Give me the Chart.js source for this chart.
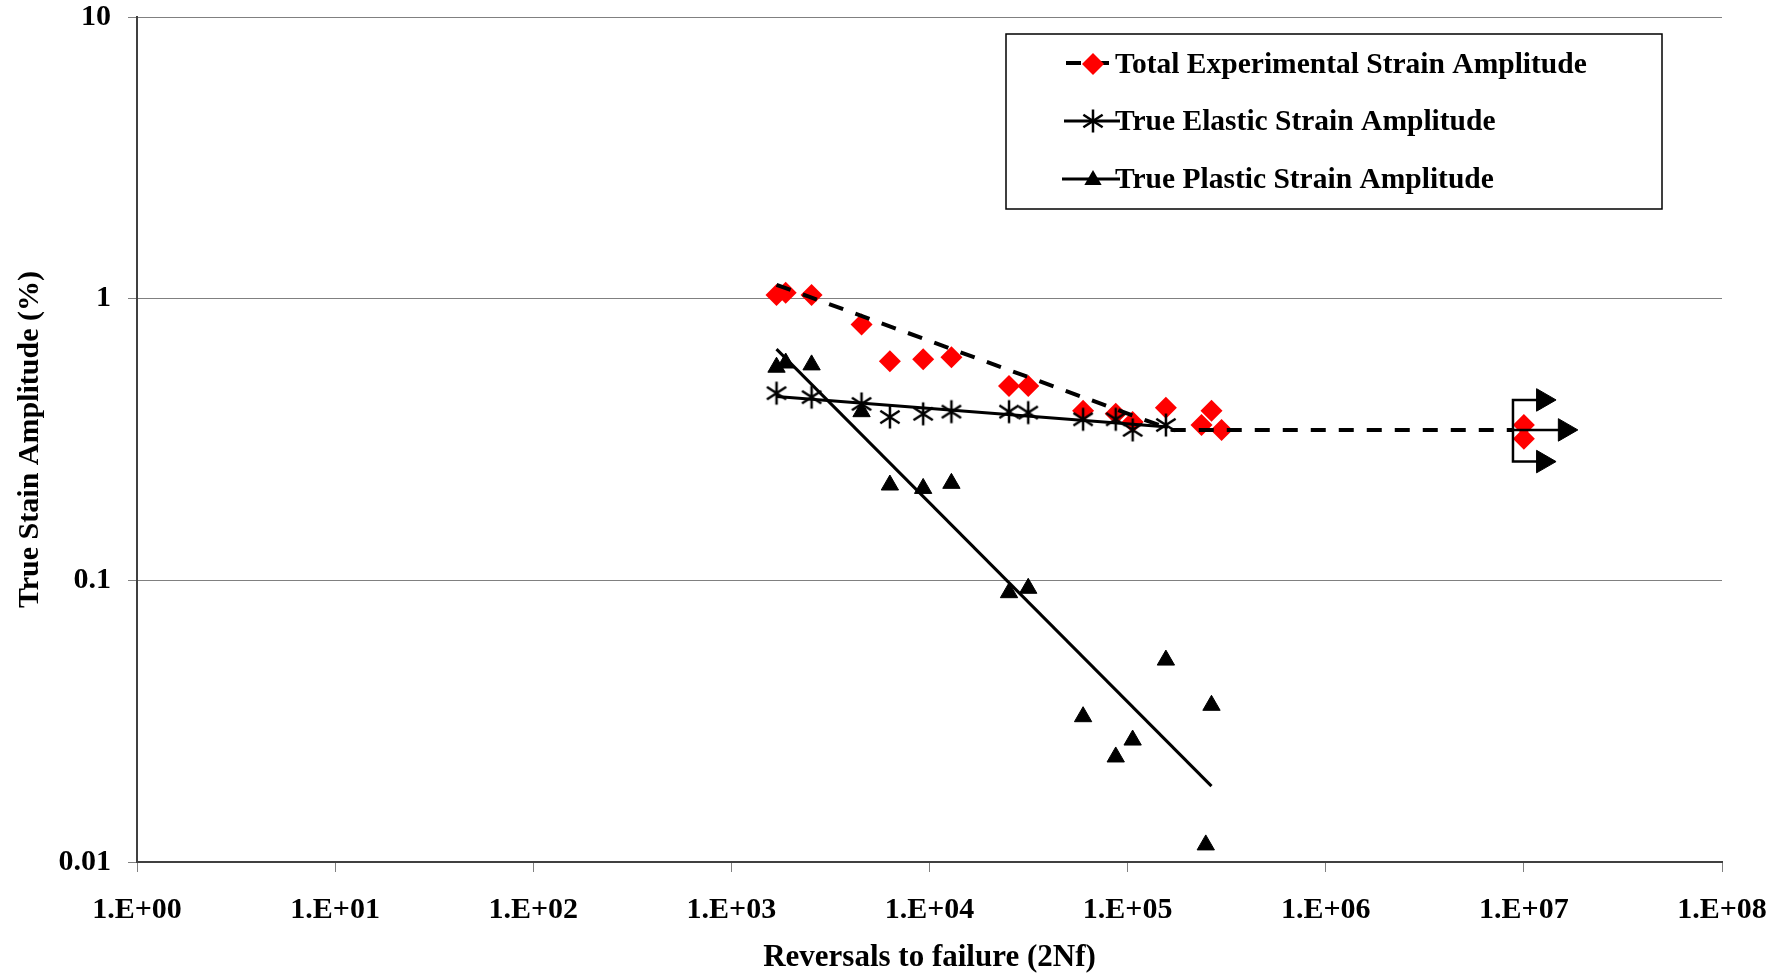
<!DOCTYPE html>
<html>
<head>
<meta charset="utf-8">
<title>Strain amplitude vs reversals</title>
<script src="https://cdn.jsdelivr.net/npm/chart.js@4.4.1/dist/chart.umd.min.js"></script>
<style>
  html, body { margin: 0; padding: 0; background: #fff; }
  #wrap { width: 1792px; height: 977px; }
</style>
</head>
<body>
<div id="wrap"><canvas id="grafico" width="1792" height="977"></canvas></div>
<script>
// axis ticks
var xTicks = [1, 10, 1e2, 1e3, 1e4, 1e5, 1e6, 1e7, 1e8];
var xTickLabels = ['1.E+00', '1.E+01', '1.E+02', '1.E+03', '1.E+04', '1.E+05', '1.E+06', '1.E+07', '1.E+08'];
var yTicks = [0.01, 0.1, 1, 10];
var yTickLabels = ['0.01', '0.1', '1', '10'];

// measured points (reversals, strain amplitude %)
var totalN = [1690, 1880, 2540, 4540, 6310, 9290, 12900, 25200, 31500, 59600, 87100, 106000, 156000, 236000, 265000, 298000, 1.0e7, 1.0e7];
var totalAmp = [1.03, 1.05, 1.03, 0.81, 0.60, 0.61, 0.62, 0.49, 0.49, 0.40, 0.39, 0.365, 0.41, 0.356, 0.40, 0.342, 0.356, 0.318];

var elasticN = [1690, 2540, 4540, 6310, 9290, 12900, 25200, 31500, 59600, 87100, 106000, 156000];
var elasticAmp = [0.462, 0.447, 0.423, 0.380, 0.390, 0.397, 0.397, 0.394, 0.373, 0.373, 0.342, 0.356];

var plasticN = [1690, 1880, 2540, 4540, 6310, 9290, 12900, 25200, 31500, 59600, 87100, 106000, 156000, 248000, 265000];
var plasticAmp = [0.571, 0.591, 0.582, 0.397, 0.218, 0.212, 0.221, 0.0904, 0.0937, 0.0328, 0.0236, 0.0271, 0.0521, 0.0115, 0.0360];

// fitted lines
var totalFitN = [1690, 168000, 8810000];
var totalFitAmp = [1.12, 0.342, 0.342];
var elasticFitN = [1690, 160000];
var elasticFitAmp = [0.449, 0.350];
var plasticFitN = [1690, 265000];
var plasticFitAmp = [0.662, 0.0186];

// run-out bracket at 1E+07
var runoutN = [8810000, 12500000, 16100000];
var runoutAmp = [0.437, 0.342, 0.264];

var legendLabels = ['Total Experimental Strain Amplitude', 'True Elastic Strain Amplitude', 'True Plastic Strain Amplitude'];

var fonte = "'Liberation Serif', 'Times New Roman', serif";

function pares(xs, ys) {
    return xs.map(function (x, i) { return { x: x, y: ys[i] }; });
}

// asterisk marker like the spreadsheet one (vertical + two diagonals)
function makeStar(size, lw) {
    var c = document.createElement('canvas');
    c.width = size; c.height = size;
    var g = c.getContext('2d');
    var m = size / 2, r = size / 2 - 1.5;
    g.strokeStyle = '#000';
    g.lineWidth = lw;
    g.beginPath();
    [90, 33, 147].forEach(function (a) {
        var rad = a * Math.PI / 180;
        g.moveTo(m + Math.cos(rad) * r, m - Math.sin(rad) * r);
        g.lineTo(m - Math.cos(rad) * r, m + Math.sin(rad) * r);
    });
    g.stroke();
    return c;
}
var starImg = makeStar(26, 2.5);

function diamond(ctx, x, y, r) {
    ctx.beginPath();
    ctx.moveTo(x, y - r); ctx.lineTo(x + r, y); ctx.lineTo(x, y + r); ctx.lineTo(x - r, y);
    ctx.closePath();
    ctx.fill();
}

function triangle(ctx, x, y, r) {
    ctx.beginPath();
    ctx.moveTo(x, y - r);
    ctx.lineTo(x + r * Math.sin(2 * Math.PI / 3), y - r * Math.cos(2 * Math.PI / 3));
    ctx.lineTo(x - r * Math.sin(2 * Math.PI / 3), y - r * Math.cos(2 * Math.PI / 3));
    ctx.closePath();
    ctx.fill();
}

// boxed legend inside the plot, top right
var legendaPlugin = {
    id: 'legendaCaixa',
    afterDraw: function (chart) {
        var ctx = chart.ctx;
        ctx.save();
        ctx.strokeStyle = '#000';
        ctx.lineWidth = 1.5;
        ctx.strokeRect(1006, 34, 656, 175);

        var rows = [63, 121, 179];

        // row 1: dashed line + red diamond
        ctx.lineWidth = 4;
        ctx.setLineDash([15, 13]);
        ctx.beginPath(); ctx.moveTo(1066, rows[0]); ctx.lineTo(1120, rows[0]); ctx.stroke();
        ctx.setLineDash([]);
        ctx.fillStyle = '#ff0000';
        diamond(ctx, 1093, rows[0] + 1, 11);

        // row 2: solid line + asterisk
        ctx.lineWidth = 3;
        ctx.beginPath(); ctx.moveTo(1064, rows[1]); ctx.lineTo(1120, rows[1]); ctx.stroke();
        ctx.drawImage(starImg, 1093 - 13, rows[1] - 13);

        // row 3: solid line + triangle
        ctx.beginPath(); ctx.moveTo(1062, rows[2]); ctx.lineTo(1120, rows[2]); ctx.stroke();
        ctx.fillStyle = '#000';
        triangle(ctx, 1093, rows[2] + 1, 10);

        ctx.font = 'bold 29.5px ' + fonte;
        ctx.textBaseline = 'alphabetic';
        ctx.textAlign = 'left';
        ctx.fillStyle = '#000';
        ctx.fillText(legendLabels[0], 1115, 73);
        ctx.fillText(legendLabels[1], 1115, 130);
        ctx.fillText(legendLabels[2], 1115, 188);
        ctx.restore();
    }
};

var init = function () {
    var ctx = document.getElementById('grafico').getContext('2d');
    new Chart(ctx, {
        type: 'scatter',
        data: {
            datasets: [
                {
                    label: 'runout-top-bottom',
                    data: [
                        { x: runoutN[1], y: runoutAmp[0] },
                        { x: runoutN[0], y: runoutAmp[0] },
                        { x: runoutN[0], y: runoutAmp[2] },
                        { x: runoutN[1], y: runoutAmp[2] }
                    ],
                    showLine: true,
                    borderColor: '#000',
                    borderWidth: 2.5,
                    backgroundColor: '#000',
                    pointStyle: 'triangle',
                    rotation: 90,
                    pointRadius: [13, 0, 0, 13],
                    pointBorderWidth: 1
                },
                {
                    label: 'runout-mid',
                    data: [{ x: runoutN[0], y: runoutAmp[1] }, { x: runoutN[2], y: runoutAmp[1] }],
                    showLine: true,
                    borderColor: '#000',
                    borderWidth: 2.5,
                    backgroundColor: '#000',
                    pointStyle: 'triangle',
                    rotation: 90,
                    pointRadius: [0, 13],
                    pointBorderWidth: 1
                },
                {
                    label: 'True Elastic Strain Amplitude',
                    data: pares(elasticN, elasticAmp),
                    pointStyle: starImg,
                    pointRadius: 11,
                    showLine: false
                },
                {
                    label: 'True Plastic Strain Amplitude',
                    data: pares(plasticN, plasticAmp),
                    pointStyle: 'triangle',
                    pointRadius: 10,
                    backgroundColor: '#000',
                    borderColor: '#000',
                    pointBorderWidth: 1,
                    showLine: false
                },
                {
                    label: 'elastic fit',
                    data: pares(elasticFitN, elasticFitAmp),
                    showLine: true,
                    borderColor: '#000',
                    borderWidth: 3,
                    pointRadius: 0
                },
                {
                    label: 'plastic fit',
                    data: pares(plasticFitN, plasticFitAmp),
                    showLine: true,
                    borderColor: '#000',
                    borderWidth: 3,
                    pointRadius: 0
                },
                {
                    label: 'total fit',
                    data: pares(totalFitN, totalFitAmp),
                    showLine: true,
                    borderColor: '#000',
                    borderWidth: 4,
                    borderDash: [15, 13],
                    pointRadius: 0
                },
                {
                    label: 'Total Experimental Strain Amplitude',
                    data: pares(totalN, totalAmp),
                    pointStyle: 'rectRot',
                    pointRadius: 11,
                    backgroundColor: '#ff0000',
                    borderColor: '#ff0000',
                    pointBorderWidth: 0,
                    showLine: false
                }
            ]
        },
        options: {
            responsive: false,
            animation: false,
            devicePixelRatio: 1,
            layout: { padding: { top: 17, right: 70, bottom: 0, left: 0 } },
            plugins: {
                legend: { display: false },
                tooltip: { enabled: false }
            },
            scales: {
                x: {
                    type: 'logarithmic',
                    min: 1,
                    max: 1e8,
                    afterBuildTicks: function (axis) {
                        axis.ticks = xTicks.map(function (v) { return { value: v }; });
                    },
                    afterFit: function (axis) { axis.height = 115; },
                    ticks: {
                        autoSkip: false,
                        maxRotation: 0,
                        padding: 20,
                        color: '#000',
                        font: { family: fonte, size: 30, weight: 'bold' },
                        callback: function (value, index) { return xTickLabels[index]; }
                    },
                    grid: {
                        drawOnChartArea: false,
                        color: '#808080',
                        tickLength: 10
                    },
                    border: { color: '#404040', width: 2 },
                    title: {
                        display: true,
                        text: 'Reversals to failure (2Nf)',
                        color: '#000',
                        font: { family: fonte, size: 31, weight: 'bold' },
                        padding: { top: 0, bottom: 0 }
                    }
                },
                y: {
                    type: 'logarithmic',
                    min: 0.01,
                    max: 10,
                    afterBuildTicks: function (axis) {
                        axis.ticks = yTicks.map(function (v) { return { value: v }; });
                    },
                    afterFit: function (axis) {
                        axis.width = 137;
                        axis.paddingTop = 0;
                        axis.paddingBottom = 0;
                    },
                    ticks: {
                        autoSkip: false,
                        padding: 17,
                        color: '#000',
                        font: { family: fonte, size: 30, weight: 'bold' },
                        callback: function (value, index) { return yTickLabels[index]; }
                    },
                    grid: {
                        color: '#808080',
                        lineWidth: 1,
                        tickLength: 9
                    },
                    border: { color: '#404040', width: 2 },
                    title: {
                        display: true,
                        text: 'True Stain Amplitude (%)',
                        color: '#000',
                        font: { family: fonte, size: 30, weight: 'bold' },
                        padding: { top: 12, bottom: 0 }
                    }
                }
            }
        },
        plugins: [legendaPlugin]
    });
};

init();
</script>
</body>
</html>
